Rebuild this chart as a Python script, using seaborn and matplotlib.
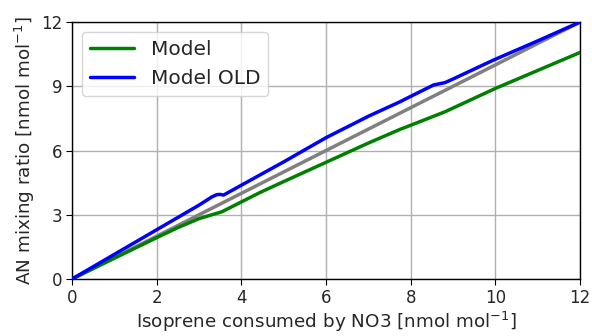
import matplotlib
matplotlib.use("Agg")
import matplotlib.pyplot as plt
import numpy as np
import pandas as pd
import seaborn as sns

# Isoprene consumed by NO3 vs. AN mixing ratio (nmol/mol)
model_x = [0, 1, 2, 2.5, 3, 3.54, 4, 4.44, 5, 6, 7, 7.75, 8, 8.81, 10, 11, 12]
model_y = [0, 0.97, 1.93, 2.4, 2.82, 3.14, 3.6, 4.04, 4.55, 5.45, 6.35, 6.99, 7.18, 7.81, 8.9, 9.74, 10.58]

old_x = [0, 1, 2, 3, 3.3, 3.42, 3.5, 3.58, 4, 4.44, 5, 6, 7, 7.75, 8, 8.54, 8.81, 9, 9.95, 11, 12]
old_y = [0, 1.15, 2.3, 3.45, 3.83, 3.94, 3.95, 3.92, 4.38, 4.86, 5.47, 6.6, 7.6, 8.28, 8.53, 9.06, 9.17, 9.34, 10.22, 11.12, 12.0]

ref_x = [0, 12]
ref_y = [0, 12]

df = pd.concat([
    pd.DataFrame({"x": model_x, "y": model_y, "run": "Model"}),
    pd.DataFrame({"x": old_x, "y": old_y, "run": "Model OLD"}),
])

sns.set_style("ticks")
plt.rcParams["font.family"] = ["DejaVu Sans"]

fig = plt.figure(figsize=(5.92, 3.36), dpi=100)
ax = fig.add_axes([0.1216, 0.1696, 0.8584, 0.7649])

ax.plot(ref_x, ref_y, color="gray", lw=2.5, zorder=2)
sns.lineplot(data=df, x="x", y="y", hue="run", palette={"Model": "green", "Model OLD": "blue"},
             lw=2.5, ax=ax, sort=False, estimator=None, zorder=3)

ax.set_xlim(0, 12)
ax.set_ylim(0, 12)
ax.set_xticks([0, 2, 4, 6, 8, 10, 12])
ax.set_yticks([0, 3, 6, 9, 12])
ax.grid(True, color="#b0b0b0", lw=1.0)
ax.set_axisbelow(True)
for s in ax.spines.values():
    s.set_visible(True)
    s.set_color("black")
    s.set_linewidth(1.0)
ax.tick_params(labelsize=12, length=4, color="black", pad=3)
ax.set_xlabel("Isoprene consumed by NO3 [nmol mol$^{-1}$]", fontsize=13.2, labelpad=2)
ax.set_ylabel("AN mixing ratio [nmol mol$^{-1}$]", fontsize=13.2, labelpad=3)
ax.legend(loc="upper left", fontsize=14.5, title=None, framealpha=0.8, handlelength=2.2)

fig.savefig("out.png", dpi=100)
